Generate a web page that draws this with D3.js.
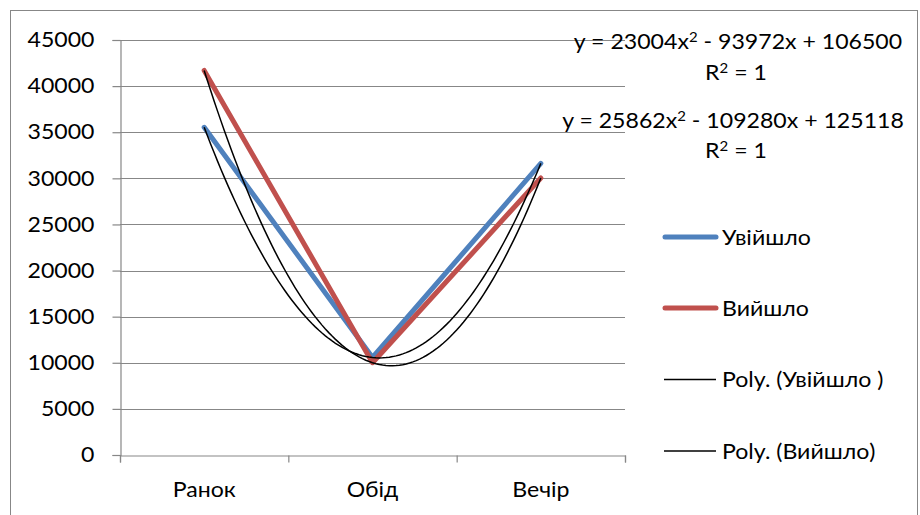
<!DOCTYPE html>
<html>
<head>
<meta charset="utf-8">
<script src="https://cdn.jsdelivr.net/npm/d3@7"></script>
<style>
  html, body { margin: 0; padding: 0; background: #fff; }
  svg text { font-family: Lato, "Open Sans", sans-serif; fill: #000; }
</style>
</head>
<body>
<svg id="chart" width="920" height="515"></svg>
<script>
const categories = ["Ранок", "Обід", "Вечір"];
const seriesNames = ["Увійшло", "Вийшло"];
const inValues = [35532, 10572, 31620];
const outValues = [41700, 10006, 30036];
const trendNames = ["Poly. (Увійшло )", "Poly. (Вийшло)"];
const inCoef = [23004, -93972, 106500];
const outCoef = [25862, -109280, 125118];
const yTicks = [0, 5000, 10000, 15000, 20000, 25000, 30000, 35000, 40000, 45000];
// equation parts: [before superscript, superscript, after]
const equations = [["y = 23004x", "2", " - 93972x + 106500"], ["y = 25862x", "2", " - 109280x + 125118"]];
const rSquared = [["R", "2", " = 1"], ["R", "2", " = 1"]];

const colors = ["#4F81BD", "#C0504D"];
const gridColor = "#878787";
const FS = 21, STRETCH = 1.1;

const svg = d3.select("#chart");

function stretch(sel) {
  sel.each(function () {
    const len = this.getComputedTextLength();
    d3.select(this).attr("textLength", len * STRETCH).attr("lengthAdjust", "spacingAndGlyphs");
  });
}

// outer border
svg.append("rect").attr("x", 10.5).attr("y", 10.5).attr("width", 907).attr("height", 520)
  .attr("fill", "none").attr("stroke", gridColor).attr("stroke-width", 1);

const L = 120, R = 625, T = 40, B = 455;
const x = d3.scaleBand().domain(categories).range([L, R]).padding(0);
const y = d3.scaleLinear().domain([0, 45000]).range([B, T]);
const xc = c => x(c) + x.bandwidth() / 2;
const xPoly = d3.scaleLinear().domain([1, 3]).range([xc(categories[0]), xc(categories[2])]);

// gridlines
svg.append("g").selectAll("line").data(yTicks.filter(d => d > 0)).join("line")
  .attr("x1", L).attr("x2", R).attr("y1", d => Math.round(y(d)) + 0.5).attr("y2", d => Math.round(y(d)) + 0.5)
  .attr("stroke", gridColor).attr("stroke-width", 1.2);

// y axis
const yAxis = svg.append("g").attr("transform", `translate(${L + 0.5},0)`)
  .call(d3.axisLeft(y).tickValues(yTicks).tickSize(8).tickPadding(18).tickFormat(d3.format("d")));
yAxis.select(".domain").attr("stroke", gridColor).attr("stroke-width", 1.2);
yAxis.selectAll(".tick line").attr("stroke", gridColor).attr("stroke-width", 1.2);
yAxis.selectAll("text").attr("font-size", FS).attr("font-family", "Lato").attr("fill", "#000").call(stretch);

// x axis boundary ticks
const xb = d3.scaleLinear().domain([0, 3]).range([L, R]);
const xAxisTicks = svg.append("g").attr("transform", `translate(0,${B + 0.5})`)
  .call(d3.axisBottom(xb).tickValues([0, 1, 2, 3]).tickSize(7).tickFormat(""));
xAxisTicks.select(".domain").attr("stroke", gridColor).attr("stroke-width", 1.2);
xAxisTicks.selectAll(".tick line").attr("stroke", gridColor).attr("stroke-width", 1.2);

// x labels
const xAxis = svg.append("g").attr("transform", `translate(0,${B})`)
  .call(d3.axisBottom(x).tickSize(0).tickPadding(27));
xAxis.select(".domain").remove();
xAxis.selectAll("text").attr("font-size", FS).attr("font-family", "Lato").attr("fill", "#000").call(stretch);

// series lines
const line = d3.line().x((d, i) => xc(categories[i])).y(d => y(d));
[inValues, outValues].forEach((vals, k) => {
  svg.append("path").datum(vals).attr("d", line).attr("fill", "none")
    .attr("stroke", colors[k]).attr("stroke-width", 5).attr("stroke-linecap", "round").attr("stroke-linejoin", "round");
});

// polynomial trendlines (from displayed equations)
const samples = d3.range(1, 3.0001, 0.02);
[inCoef, outCoef].forEach(c => {
  const pts = samples.map(t => [xPoly(t), y(c[0] * t * t + c[1] * t + c[2])]);
  svg.append("path").attr("d", d3.line()(pts)).attr("fill", "none")
    .attr("stroke", "#000").attr("stroke-width", 1.5);
});

// equation labels with superscripts
function supText(parts, px, py) {
  const t = svg.append("text").attr("x", px).attr("y", py).attr("text-anchor", "middle").attr("font-size", FS);
  t.append("tspan").text(parts[0]);
  t.append("tspan").attr("font-size", FS * 0.65).attr("dy", -7).text(parts[1]);
  t.append("tspan").attr("dy", 7).text(parts[2]);
  t.call(stretch);
}
const eqPos = [[738, 49], [733, 128]];
const rPos = [[736, 80], [736, 158]];
equations.forEach((p, i) => {
  supText(p, eqPos[i][0], eqPos[i][1]);
  supText(rSquared[i], rPos[i][0], rPos[i][1]);
});

// legend
const legendItems = [
  { name: seriesNames[0], color: colors[0], w: 5 },
  { name: seriesNames[1], color: colors[1], w: 5 },
  { name: trendNames[0], color: "#000", w: 1.5 },
  { name: trendNames[1], color: "#000", w: 1.5 }
];
const legY = [237, 308, 379.5, 451];
const leg = svg.append("g");
legendItems.forEach((d, i) => {
  leg.append("line").attr("x1", d.w > 2 ? 665 : 664).attr("x2", 716)
    .attr("y1", legY[i]).attr("y2", legY[i]).attr("stroke", d.color).attr("stroke-width", d.w)
    .attr("stroke-linecap", d.w > 2 ? "round" : "butt");
  leg.append("text").attr("x", 722).attr("y", legY[i] + 7.5).attr("font-size", FS).text(d.name).call(stretch);
});
</script>
</body>
</html>
